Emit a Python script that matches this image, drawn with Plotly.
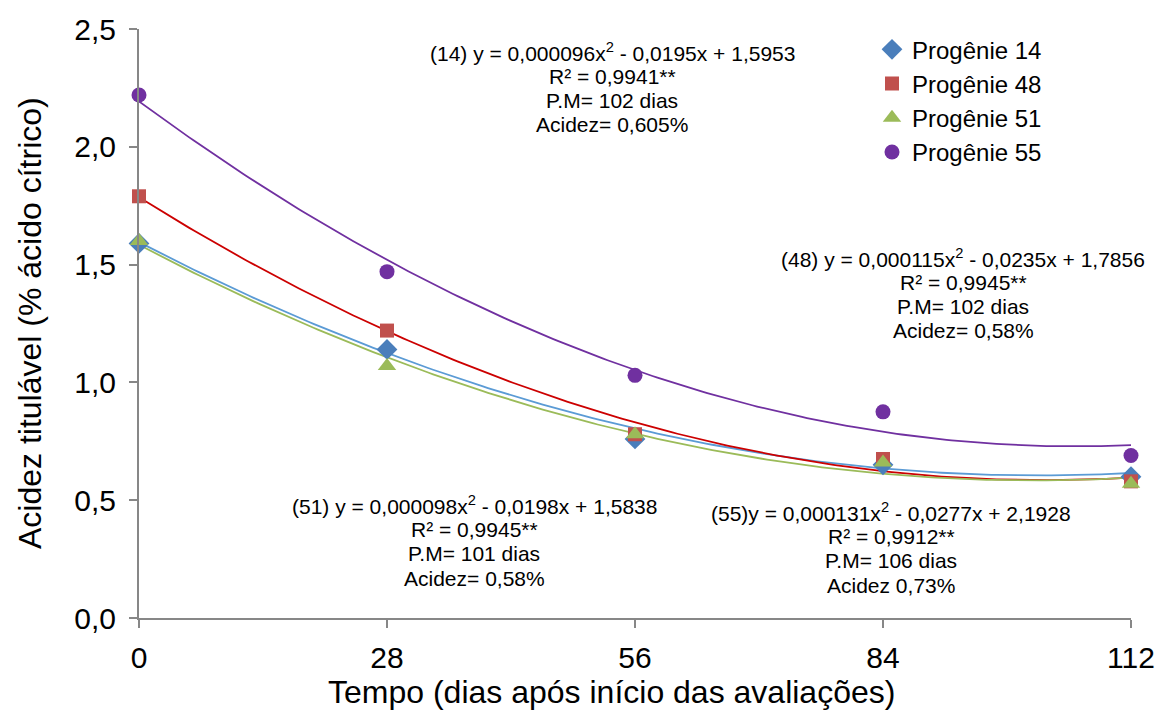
import numpy as np
import plotly.graph_objects as go

# Avaliações (dias após início)
dias = [0, 28, 56, 84, 112]

# Acidez titulável observada (% ácido cítrico)
prog14 = [1.59, 1.14, 0.76, 0.65, 0.60]
prog48 = [1.79, 1.22, 0.78, 0.675, 0.58]
prog51 = [1.60, 1.07, 0.78, 0.66, 0.57]
prog55 = [2.22, 1.47, 1.03, 0.875, 0.69]

# Coeficientes das regressões quadráticas (a, b, c): y = a x² + b x + c
coef14 = (0.000096, -0.0195, 1.5953)
coef48 = (0.000115, -0.0235, 1.7856)
coef51 = (0.000098, -0.0198, 1.5838)
coef55 = (0.000131, -0.0277, 2.1928)

series = [
    ("Progênie 14", prog14, coef14, "diamond", "#4A7EBB", "#5B9BD5", 16),
    ("Progênie 48", prog48, coef48, "square", "#C0504D", "#CC0000", 14),
    ("Progênie 51", prog51, coef51, "triangle-up", "#9BBB59", "#9BBB59", 16),
    ("Progênie 55", prog55, coef55, "circle", "#7030A0", "#7030A0", 15),
]

# Textos das equações ajustadas, linha a linha
eq14 = ["(14) y = 0,000096x<sup>2</sup> - 0,0195x + 1,5953", "R² = 0,9941**",
        "P.M= 102 dias", "Acidez= 0,605%"]
eq48 = ["(48) y = 0,000115x<sup>2</sup> - 0,0235x + 1,7856", "R² = 0,9945**",
        "P.M= 102 dias", "Acidez= 0,58%"]
eq51 = ["(51) y = 0,000098x<sup>2</sup> - 0,0198x + 1,5838", "R² = 0,9945**",
        "P.M= 101 dias", "Acidez= 0,58%"]
eq55 = ["(55)y = 0,000131x<sup>2</sup> - 0,0277x + 2,1928", "R² = 0,9912**",
        "P.M= 106 dias", "Acidez 0,73%"]

titulo_x = "Tempo (dias após início das avaliações)"
titulo_y = "Acidez titulável (% ácido cítrico)"

W, H = 1170, 726
ML, MR, MT, MB = 139, 39, 25, 108
XMAX, YMAX = 112, 2.5


def px_to_x(px):
    return (px - ML) / (W - ML - MR) * XMAX


def px_to_y(py):
    return (H - MB - py) / (H - MB - MT) * YMAX


xs = np.linspace(0, XMAX, 200)
fig = go.Figure()

for nome, y, (a, b, c), simb, cor_m, cor_l, tam in series:
    fig.add_trace(go.Scatter(
        x=xs, y=a * xs ** 2 + b * xs + c, mode="lines", cliponaxis=False,
        line=dict(color=cor_l, width=1.8), showlegend=False, hoverinfo="skip"))

for nome, y, coef, simb, cor_m, cor_l, tam in series:
    fig.add_trace(go.Scatter(
        x=dias, y=y, mode="markers", name=nome, cliponaxis=False,
        marker=dict(symbol=simb, size=tam, color=cor_m, line=dict(width=0))))

fonte = "Liberation Sans, Arial, sans-serif"
# (centro x em px, y da primeira linha em px, linhas)
blocos = [
    (612, 48, eq14),
    (963, 255.5, eq48),
    (474, 504.5, eq51),
    (891, 511.5, eq55),
]
for cx, y0, linhas in blocos:
    for i, txt in enumerate(linhas):
        fig.add_annotation(x=px_to_x(cx), y=px_to_y(y0 + i * 24.5), text=txt,
                           showarrow=False, xanchor="center", yanchor="middle",
                           font=dict(family=fonte, size=21, color="#000000"))

# Títulos dos eixos
fig.add_annotation(x=px_to_x(611) / XMAX, y=(H - 692 - MB) / (H - MB - MT),
                   xref="paper", yref="paper", text=titulo_x, showarrow=False,
                   xanchor="center", yanchor="middle",
                   font=dict(family=fonte, size=32, color="#000"))
fig.add_annotation(x=(30 - ML) / (W - ML - MR), y=(H - 321 - MB) / (H - MB - MT),
                   xref="paper", yref="paper", text=titulo_y, showarrow=False,
                   textangle=-90, xanchor="center", yanchor="middle",
                   font=dict(family=fonte, size=32, color="#000"))

eixo = dict(showgrid=False, zeroline=False, showline=True, linecolor="#878787",
            linewidth=2, ticks="outside", ticklen=8, tickcolor="#878787",
            tickwidth=1.5)

fig.update_layout(
    width=W, height=H,
    margin=dict(l=ML, r=MR, t=MT, b=MB),
    paper_bgcolor="white", plot_bgcolor="white",
    separators=",.",
    font=dict(family=fonte, color="#000"),
    xaxis=dict(range=[0, XMAX], tickvals=dias, ticklabelstandoff=4,
               tickfont=dict(family=fonte, size=30, color="#000"), **eixo),
    yaxis=dict(range=[0, YMAX], dtick=0.5, tickformat=".1f", ticklabelstandoff=7,
               tickfont=dict(family=fonte, size=30, color="#000"), **eixo),
    legend=dict(x=px_to_x(872) / XMAX, y=1.003, xanchor="left", yanchor="top",
                font=dict(family=fonte, size=24), tracegroupgap=0,
                bgcolor="rgba(0,0,0,0)", itemwidth=30),
)

fig.write_html("out.html")
